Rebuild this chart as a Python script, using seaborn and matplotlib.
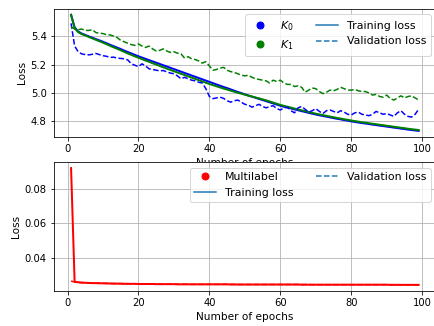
import numpy as np
import matplotlib
matplotlib.use('Agg')
import matplotlib.pyplot as plt
from matplotlib.lines import Line2D
import seaborn as sns

# Epochs 1..99
epochs = list(range(1, 100))

# K0 / K1 losses (top panel)
k0_train = [5.550, 5.462, 5.432, 5.418, 5.408, 5.398, 5.389, 5.379, 5.370, 5.360,
            5.350, 5.339, 5.329, 5.319, 5.309, 5.298, 5.288, 5.278, 5.268, 5.258,
            5.249, 5.240, 5.231, 5.222, 5.213, 5.204, 5.195, 5.186, 5.177, 5.168,
            5.159, 5.150, 5.141, 5.132, 5.123, 5.114, 5.105, 5.096, 5.087, 5.078,
            5.069, 5.060, 5.051, 5.042, 5.034, 5.025, 5.016, 5.007, 4.999, 4.990,
            4.982, 4.974, 4.966, 4.958, 4.950, 4.942, 4.934, 4.926, 4.918, 4.910,
            4.903, 4.897, 4.891, 4.884, 4.878, 4.872, 4.866, 4.860, 4.854, 4.848,
            4.843, 4.838, 4.833, 4.828, 4.823, 4.818, 4.814, 4.809, 4.805, 4.800,
            4.796, 4.792, 4.788, 4.785, 4.781, 4.777, 4.774, 4.770, 4.767, 4.763,
            4.760, 4.756, 4.753, 4.749, 4.746, 4.742, 4.739, 4.736, 4.733]
k1_train = [5.550, 5.455, 5.428, 5.414, 5.405, 5.394, 5.384, 5.374, 5.364, 5.354,
            5.343, 5.332, 5.321, 5.311, 5.300, 5.289, 5.278, 5.268, 5.257, 5.248,
            5.238, 5.228, 5.219, 5.209, 5.200, 5.190, 5.181, 5.171, 5.162, 5.153,
            5.144, 5.135, 5.126, 5.117, 5.108, 5.099, 5.090, 5.081, 5.072, 5.063,
            5.055, 5.047, 5.039, 5.031, 5.024, 5.016, 5.009, 5.001, 4.995, 4.988,
            4.981, 4.975, 4.968, 4.962, 4.955, 4.948, 4.940, 4.932, 4.924, 4.916,
            4.909, 4.903, 4.897, 4.890, 4.884, 4.878, 4.872, 4.866, 4.860, 4.854,
            4.849, 4.844, 4.839, 4.834, 4.829, 4.824, 4.820, 4.815, 4.811, 4.806,
            4.802, 4.798, 4.794, 4.791, 4.787, 4.783, 4.780, 4.776, 4.773, 4.769,
            4.766, 4.762, 4.759, 4.755, 4.752, 4.748, 4.745, 4.742, 4.739]
k0_val = [5.490, 5.330, 5.290, 5.275, 5.270, 5.268, 5.272, 5.278, 5.270, 5.262,
          5.258, 5.250, 5.252, 5.245, 5.243, 5.240, 5.232, 5.205, 5.195, 5.185,
          5.205, 5.190, 5.170, 5.165, 5.160, 5.155, 5.158, 5.148, 5.140, 5.135,
          5.120, 5.100, 5.110, 5.100, 5.090, 5.085, 5.075, 5.070, 5.030, 4.975,
          4.960, 4.965, 4.970, 4.962, 4.945, 4.935, 4.945, 4.950, 4.935, 4.920,
          4.915, 4.900, 4.910, 4.920, 4.905, 4.895, 4.905, 4.910, 4.890, 4.880,
          4.895, 4.900, 4.875, 4.860, 4.895, 4.905, 4.885, 4.865, 4.875, 4.890,
          4.870, 4.855, 4.875, 4.880, 4.870, 4.860, 4.875, 4.865, 4.850, 4.845,
          4.860, 4.865, 4.850, 4.845, 4.840, 4.850, 4.870, 4.860, 4.850, 4.855,
          4.845, 4.835, 4.860, 4.875, 4.850, 4.835, 4.830, 4.850, 4.885]
k1_val = [5.465, 5.450, 5.445, 5.450, 5.440, 5.440, 5.445, 5.425, 5.420, 5.418,
          5.410, 5.408, 5.400, 5.390, 5.370, 5.360, 5.350, 5.340, 5.335, 5.345,
          5.330, 5.320, 5.330, 5.310, 5.295, 5.300, 5.310, 5.295, 5.285, 5.290,
          5.280, 5.275, 5.245, 5.255, 5.240, 5.235, 5.225, 5.210, 5.220, 5.190,
          5.160, 5.165, 5.175, 5.180, 5.160, 5.150, 5.145, 5.135, 5.125, 5.120,
          5.125, 5.110, 5.100, 5.095, 5.090, 5.085, 5.070, 5.090, 5.080, 5.090,
          5.070, 5.060, 5.060, 5.045, 5.050, 5.040, 5.005, 5.020, 5.035, 5.030,
          5.010, 4.995, 5.005, 5.020, 5.015, 5.025, 5.040, 5.030, 5.020, 5.020,
          5.025, 5.015, 5.010, 5.010, 5.000, 4.985, 4.990, 4.975, 4.970, 4.985,
          4.960, 4.950, 4.965, 4.980, 4.965, 4.975, 4.980, 4.965, 4.950]

# Multilabel losses (bottom panel)
ml_train = [0.0920, 0.0262, 0.0259, 0.0257, 0.0256, 0.0255, 0.0254, 0.0254, 0.0253, 0.0253,
            0.0252, 0.0252, 0.0251, 0.0251, 0.0251, 0.0250, 0.0250, 0.0250, 0.0250, 0.0249,
            0.0249, 0.0249, 0.0249, 0.0249, 0.0248, 0.0248, 0.0248, 0.0248, 0.0248, 0.0248,
            0.0247, 0.0247, 0.0247, 0.0247, 0.0247, 0.0247, 0.0247, 0.0247, 0.0247, 0.0247,
            0.0247, 0.0247, 0.0247, 0.0247, 0.0247, 0.0246, 0.0246, 0.0246, 0.0246, 0.0246,
            0.0246, 0.0246, 0.0246, 0.0246, 0.0246, 0.0246, 0.0246, 0.0246, 0.0246, 0.0246,
            0.0246, 0.0246, 0.0246, 0.0246, 0.0246, 0.0245, 0.0245, 0.0245, 0.0245, 0.0245,
            0.0245, 0.0245, 0.0245, 0.0245, 0.0245, 0.0245, 0.0245, 0.0245, 0.0245, 0.0245,
            0.0245, 0.0245, 0.0245, 0.0245, 0.0245, 0.0245, 0.0245, 0.0245, 0.0245, 0.0245,
            0.0244, 0.0244, 0.0244, 0.0244, 0.0244, 0.0244, 0.0244, 0.0244, 0.0244]
ml_val = [0.0266, 0.0260, 0.0258, 0.0257, 0.0256, 0.0255, 0.0255, 0.0254, 0.0254, 0.0253,
          0.0253, 0.0252, 0.0252, 0.0252, 0.0251, 0.0251, 0.0251, 0.0250, 0.0250, 0.0250,
          0.0250, 0.0249, 0.0249, 0.0249, 0.0249, 0.0249, 0.0248, 0.0248, 0.0248, 0.0248,
          0.0248, 0.0248, 0.0248, 0.0247, 0.0247, 0.0247, 0.0247, 0.0247, 0.0247, 0.0247,
          0.0247, 0.0247, 0.0247, 0.0247, 0.0247, 0.0247, 0.0247, 0.0246, 0.0246, 0.0246,
          0.0246, 0.0246, 0.0246, 0.0246, 0.0246, 0.0246, 0.0246, 0.0246, 0.0246, 0.0246,
          0.0246, 0.0246, 0.0246, 0.0246, 0.0246, 0.0246, 0.0246, 0.0246, 0.0245, 0.0245,
          0.0245, 0.0245, 0.0245, 0.0245, 0.0245, 0.0245, 0.0245, 0.0245, 0.0245, 0.0245,
          0.0245, 0.0245, 0.0245, 0.0245, 0.0245, 0.0245, 0.0245, 0.0245, 0.0245, 0.0245,
          0.0245, 0.0245, 0.0245, 0.0244, 0.0244, 0.0244, 0.0244, 0.0244, 0.0244]

fig = plt.figure(figsize=(434 / 72, 326 / 72), dpi=72)
ax1 = fig.add_axes([0.1237, 0.5807, 0.881, 0.3917])
ax2 = fig.add_axes([0.1237, 0.1083, 0.881, 0.394])

# Top panel: K0 and K1
sns.lineplot(x=epochs, y=k0_train, ax=ax1, color='blue', linewidth=2)
sns.lineplot(x=epochs, y=k1_train, ax=ax1, color='green', linewidth=2)
sns.lineplot(x=epochs, y=k0_val, ax=ax1, color='blue', linestyle='--')
sns.lineplot(x=epochs, y=k1_val, ax=ax1, color='green', linestyle='--')
ax1.set_xlabel('Number of epochs', fontsize=10.5)
ax1.set_ylabel('Loss', fontsize=10.5)
ax1.grid(True)

handles1 = [Line2D([], [], marker='o', markersize=7, linestyle='none', color='blue', label=r'$K_0$'),
            Line2D([], [], marker='o', markersize=7, linestyle='none', color='green', label=r'$K_1$'),
            Line2D([], [], color='C0', label='Training loss'),
            Line2D([], [], color='C0', linestyle='--', label='Validation loss')]
ax1.legend(handles=handles1, loc='upper right', ncol=2, fontsize=11)

# Bottom panel: multilabel
sns.lineplot(x=epochs, y=ml_train, ax=ax2, color='red', linewidth=2)
sns.lineplot(x=epochs, y=ml_val, ax=ax2, color='red', linestyle='--')
ax2.set_xlabel('Number of epochs', fontsize=10.5)
ax2.set_ylabel('Loss', fontsize=10.5)
ax2.grid(True)

handles2 = [Line2D([], [], marker='o', markersize=7, linestyle='none', color='red', label='Multilabel'),
            Line2D([], [], color='C0', label='Training loss'),
            Line2D([], [], color='C0', linestyle='--', label='Validation loss')]
ax2.legend(handles=handles2, loc='upper right', ncol=2, fontsize=11)

fig.savefig('out.png', dpi=72)
